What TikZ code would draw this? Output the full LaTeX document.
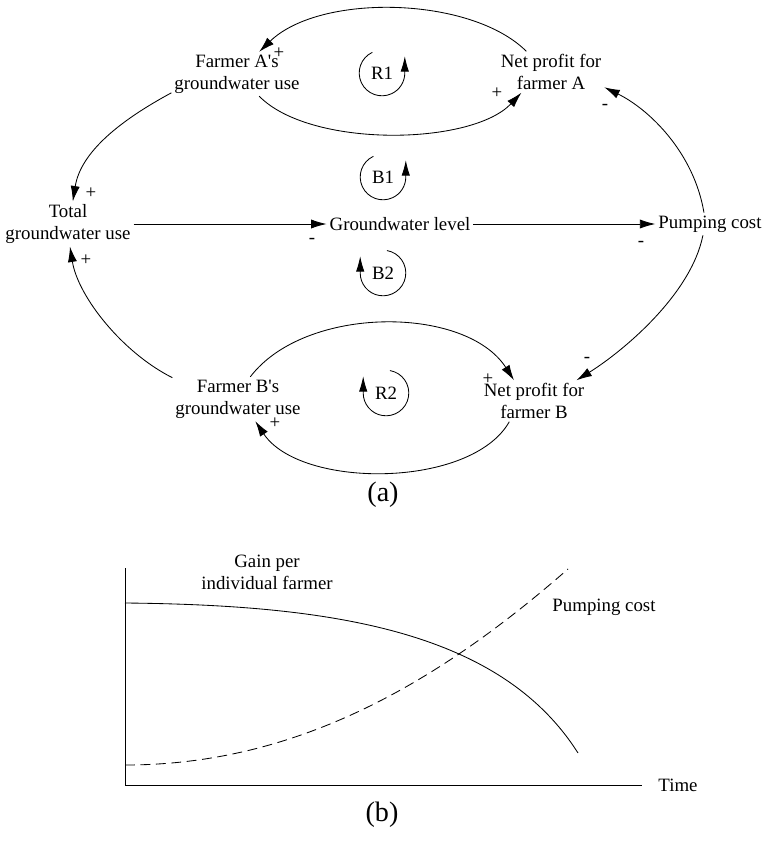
\documentclass[tikz,border=0pt]{standalone}
\usepackage{fontspec}
\setmainfont{Liberation Serif}
\usepackage{tikz}
\usetikzlibrary{arrows.meta}

\begin{document}
\begin{tikzpicture}[
  font=\fontsize{13.4}{15.5}\selectfont,
  var/.style ={align=center, inner sep=2pt},
  sgn/.style ={inner sep=0pt},
  lbl/.style ={inner sep=1pt, font=\fontsize{20}{24}\selectfont},
  ar/.style  ={-{Latex[length=11pt,width=6.5pt]}, line width=0.6pt},
  lp/.style  ={-{Latex[length=11pt,width=6pt]}, line width=0.6pt}
]
\useasboundingbox (0,0) rectangle (19.125,-21.075);

% ---------- (a) causal loop diagram ----------
\node[var] (useA)    at (5.925,-1.85)  {Farmer A\textquotesingle s\\groundwater use};
\node[var] (profitA) at (13.775,-1.8)  {Net profit for\\farmer A};
\node[var] (total)   at (1.7,-5.6)     {Total\\groundwater use};
\node[var] (level)   at (10,-5.6)      {Groundwater level};
\node[var] (cost)    at (17.75,-5.6)   {Pumping cost};
\node[var] (useB)    at (5.95,-9.975)  {Farmer B\textquotesingle s\\groundwater use};
\node[var] (profitB) at (13.35,-10.025){Net profit for\\farmer B};

\node (R1) at (9.55,-1.825) {R1};
\node (B1) at (9.575,-4.425) {B1};
\node (B2) at (9.575,-6.825) {B2};
\node (R2) at (9.65,-9.825) {R2};

\draw[ar] (profitA.140) .. controls +(-1.375,1.375) and +(1.525,1.475) .. (useA.45);
\draw[ar] (useA.-45) .. controls +(1.275,-1.3) and +(-1.25,-1.325) .. (profitA.-145);
\draw[ar] (useA.196) .. controls +(-1.25,-0.675) and +(0.2,1.25) .. (total.78);
\draw[ar] (total) -- (level);
\draw[ar] (level) -- (cost);
\draw[ar] (cost.118) .. controls +(-0.25,1.5) and +(1.125,-0.55) .. (profitA.-16);
\draw[ar] (cost.-122) .. controls +(-0.3,-1.5) and +(1.125,0.7) .. (profitB.26);
\draw[ar] (useB.61) .. controls +(1.375,1.8) and +(-1.2,1.875) .. (profitB.134);
\draw[ar] (profitB.-140) .. controls +(-0.95,-1.675) and +(1.125,-1.7) .. (useB.-52);
\draw[ar] (useB.162) .. controls +(-1.25,0.625) and +(0.2,-1.25) .. (total.-85);

% loop markers
\draw[lp] (R1.center) ++(115:.57) arc[start angle=115, end angle=360, radius=.57] -- ++(0,.42);
\draw[lp] (B1.center) ++(115:.57) arc[start angle=115, end angle=360, radius=.57] -- ++(0,.42);
\draw[lp] (B2.center) ++(80:.57) arc[start angle=80, end angle=-180, radius=.57] -- ++(0,.42);
\draw[lp] (R2.center) ++(80:.57) arc[start angle=80, end angle=-180, radius=.57] -- ++(0,.42);

% polarities
\node[sgn] (s1)  at (6.975,-1.325) {+};
\node[sgn] (s2)  at (12.425,-2.325) {+};
\node[sgn] (s3)  at (2.275,-4.825) {+};
\node[sgn] (s4)  at (7.8,-6.025) {-};
\node[sgn] (s5)  at (16.025,-6.1) {-};
\node[sgn] (s6)  at (15.125,-2.675) {-};
\node[sgn] (s7)  at (2.15,-6.5) {+};
\node[sgn] (s8)  at (6.875,-10.575) {+};
\node[sgn] (s9)  at (14.675,-9.0) {-};
\node[sgn] (s10) at (12.2,-9.475) {+};

\node[lbl] (capA) at (9.575,-12.375) {(a)};

% ---------- (b) gain vs pumping cost ----------
\coordinate (O)  at (3.125,-19.625);
\coordinate (yT) at (3.125,-14.2);
\coordinate (xT) at (16.05,-19.625);
\draw[line width=0.7pt] (yT) -- (O) -- (xT);

\draw[line width=0.6pt] (3.125,-15.075) .. controls (8.25,-15.125) and (12.5,-15.75) .. (14.45,-18.825);
\draw[line width=0.6pt, dash pattern=on 7pt off 4pt]
  (3.125,-19.125) .. controls (7.25,-19.125) and (10.75,-17.25) .. (14.2,-14.225);

\node[var] (gain)  at (6.675,-14.3)  {Gain per\\individual farmer};
\node[var] (pcost) at (15.1,-15.175) {Pumping cost};
\node[var] (time)  at (16.95,-19.625){Time};

\node[lbl] (capB) at (9.55,-20.375) {(b)};
\end{tikzpicture}
\end{document}
